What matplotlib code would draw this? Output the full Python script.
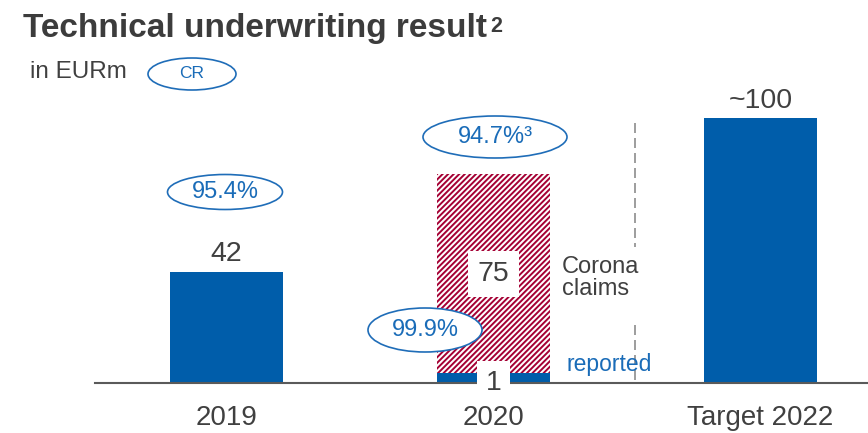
import matplotlib.pyplot as plt
from matplotlib.patches import Ellipse

plt.rcParams['font.family'] = ['Liberation Sans', 'DejaVu Sans']
plt.rcParams['hatch.linewidth'] = 1.4

# --- data ---
categories = ['2019', '2020', 'Target 2022']
reported = [42, 1, 100]
corona_claims = [0, 75, 0]
value_labels = ['42', '1', '~100']
cr_labels = ['95.4%', '99.9%', None]
cr_ex_corona = [None, '94.7%³', None]

BLUE = '#005DAA'
TEXT_BLUE = '#1A6CB8'
MAROON = '#A50034'
DARK = '#404040'

# layout: pixel scale of the original slide
PX_PER_CAT = 267.0
PX_PER_EUR = 2.65
X0_PX = 226.5
BASE_PX = 383.0
W, H = 868, 433
MIN_BAR = 3.8  # tiny bars are drawn at least this tall so they stay visible


def px(x, y):
    # pixel position (from top-left) -> data coords
    return (x - X0_PX) / PX_PER_CAT, (BASE_PX - y) / PX_PER_EUR


fig = plt.figure(figsize=(W / 100, H / 100), dpi=100)
ax = fig.add_axes([0, 0, 1, 1])
ax.set_xlim(px(0, 0)[0], px(W, 0)[0])
ax.set_ylim(px(0, H)[1], px(0, 0)[1])
ax.axis('off')

x = list(range(len(categories)))
bar_w = 113 / PX_PER_CAT
drawn = [max(v, MIN_BAR) for v in reported]

ax.bar(x, drawn, width=bar_w, color=BLUE, zorder=2)
ax.bar(x, corona_claims, bottom=drawn, width=bar_w, color='white',
       edgecolor=MAROON, hatch='//////', linewidth=0, zorder=2)

# baseline
ax.plot([px(95, 0)[0], px(W, 0)[0]], [0, 0], color='#5a5a5a', lw=1.5, zorder=3)

# value labels
for i in (0, 2):
    ax.text(x[i], reported[i] + 6.5, value_labels[i], ha='center', va='center',
            fontsize=20.5, color=DARK, zorder=5)
ax.text(x[1], 0, value_labels[1], ha='center', va='center', fontsize=20.5,
        color=DARK, zorder=5,
        bbox=dict(boxstyle='square,pad=0.3', fc='white', ec='none'))
ax.text(x[1], drawn[1] + corona_claims[1] * 0.5, str(corona_claims[1]),
        ha='center', va='center', fontsize=20.5, color=DARK, zorder=5,
        bbox=dict(boxstyle='square,pad=0.35', fc='white', ec='none'))

# category labels
for i, c in enumerate(categories):
    ax.text(x[i], px(0, 418)[1], c, ha='center', va='center', fontsize=20, color=DARK)


def bubble(cx, cy, w, h, text, size=17):
    xc, yc = px(cx, cy)
    ax.add_patch(Ellipse((xc, yc), w / PX_PER_CAT, h / PX_PER_EUR, fc='white',
                         ec='#1F6DB8', lw=1.2, zorder=4))
    ax.text(xc, yc, text, ha='center', va='center', fontsize=size,
            color=TEXT_BLUE, zorder=5)


bubble(192, 74, 88, 32, 'CR', size=12.5)
bubble(225, 192, 115, 35, cr_labels[0])
bubble(425, 330, 114, 44, cr_labels[1])
bubble(495, 137, 144, 42, cr_ex_corona[1])

# dashed divider
dx = px(635, 0)[0]
ax.plot([dx, dx], [px(0, 123)[1], px(0, 247)[1]], color='#8c8c8c', lw=1.2,
        linestyle=(0, (6, 3)), zorder=1)
ax.plot([dx, dx], [px(0, 325)[1], px(0, 381)[1]], color='#8c8c8c', lw=1.2,
        linestyle=(0, (6, 3)), zorder=1)

ax.text(*px(562, 278), 'Corona\nclaims', ha='left', va='center', fontsize=17,
        color=DARK, linespacing=1.0)
ax.text(*px(567, 364), 'reported', ha='left', va='center', fontsize=16.5,
        color=TEXT_BLUE)

# titles
title = fig.text(23 / W, 1 - 37 / H, 'Technical underwriting result', fontsize=24,
                 fontweight='bold', color='#3C3C3C', va='baseline')
bb = title.get_window_extent(renderer=fig.canvas.get_renderer())
fig.text((bb.x1 + 3) / W, 1 - 32 / H, '2', fontsize=15.5, fontweight='bold',
         color='#3C3C3C', va='baseline')
fig.text(30 / W, 1 - 78 / H, 'in EURm', fontsize=17.5, color=DARK, va='baseline')

fig.savefig('out.png', dpi=100)
